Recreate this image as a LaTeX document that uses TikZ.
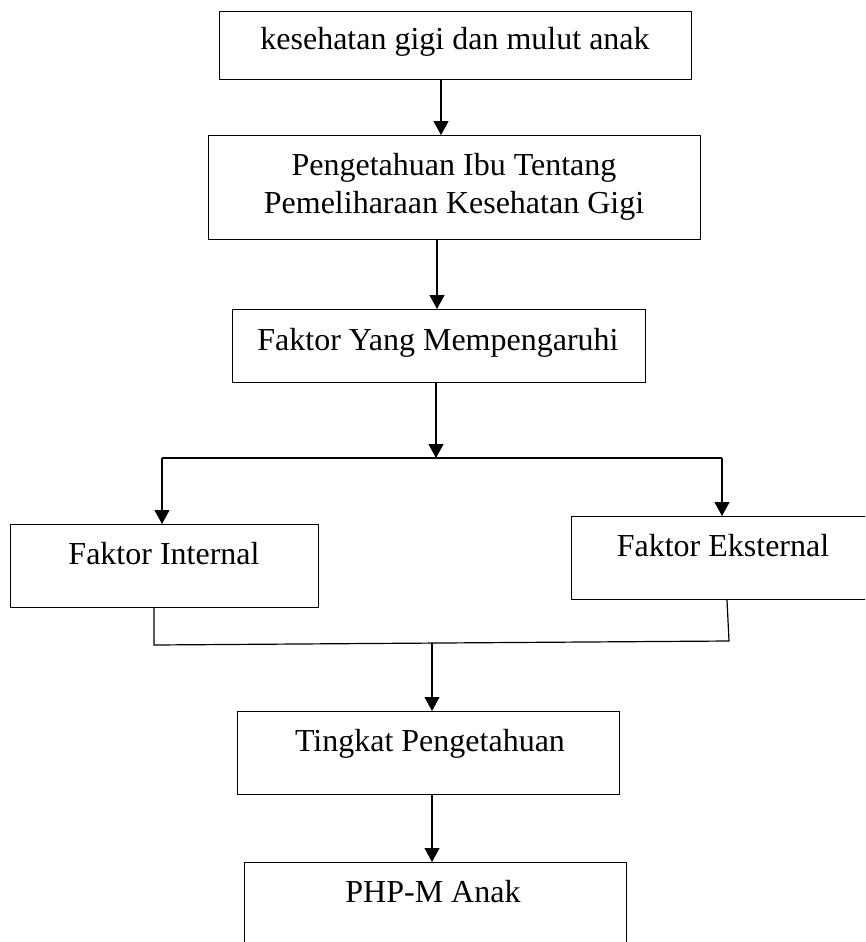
\documentclass[tikz,border=0pt]{standalone}
\usepackage{fontspec}
\setmainfont{Liberation Serif}
\usetikzlibrary{arrows.meta}
\tikzset{
  box/.style={draw, line width=1.2pt, anchor=north west, inner sep=0pt},
  txt/.style={anchor=base, inner sep=0pt, font=\fontsize{32}{38}\selectfont},
  conn/.style={line width=1.2pt},
  arr/.style={line width=1.2pt, -{Triangle[width=15pt,length=14pt]}}
}
\begin{document}
\begin{tikzpicture}[x=1pt,y=-1pt]
\useasboundingbox (0,0) rectangle (865,942);
\fill[white] (0,0) rectangle (865,942);
\begin{scope}
\clip (0,0) rectangle (865,942);
% boxes
\node[box, minimum width=472pt, minimum height=68pt] (b1) at (219,11) {};
\node[box, minimum width=492pt, minimum height=104pt] (b2) at (208,135) {};
\node[box, minimum width=413pt, minimum height=73pt] (b3) at (232,309) {};
\node[box, minimum width=308pt, minimum height=83pt] (bi) at (10,524) {};
\node[box, minimum width=304pt, minimum height=83pt] (be) at (571,516) {};
\node[box, minimum width=382pt, minimum height=83pt] (bt) at (237,711) {};
\node[box, minimum width=382pt, minimum height=120pt] (bp) at (244,862) {};
% texts
\node[txt] (t1) at (455,50) {kesehatan gigi dan mulut anak};
\node[txt] (t2a) at (454,175) {Pengetahuan Ibu Tentang};
\node[txt] (t2b) at (454,213) {Pemeliharaan Kesehatan Gigi};
\node[txt] (t3) at (438,350) {Faktor Yang Mempengaruhi};
\node[txt] (ti) at (164,564) {Faktor Internal};
\node[txt] (te) at (723,556) {Faktor Eksternal};
\node[txt] (tt) at (430,751) {Tingkat Pengetahuan};
\node[txt] (tp) at (433,902) {PHP-M Anak};
% junctions
\coordinate (jl) at (162,458);
\coordinate (jr) at (722,458);
\coordinate (jm) at (436,458);
\coordinate (kl) at (154,645);
\coordinate (kr) at (729,641);
\coordinate (km) at (432,643);
% connectors
\draw[arr] (b1.south -| 441,0) -- (b2.north -| 441,0);
\draw[arr] (b2.south -| 437,0) -- (b3.north -| 437,0);
\draw[arr] (b3.south -| jm) -- (jm);
\draw[conn] (jl) -- (jr);
\draw[arr] (jl) -- (bi.north -| jl);
\draw[arr] (jr) -- (be.north -| jr);
\draw[conn] (bi.south -| kl) -- (kl) -- (kr) -- (be.south -| 727,0);
\draw[arr] (km) -- (bt.north -| km);
\draw[arr] (bt.south -| 432,0) -- (bp.north -| 432,0);
\end{scope}
\end{tikzpicture}
\end{document}
